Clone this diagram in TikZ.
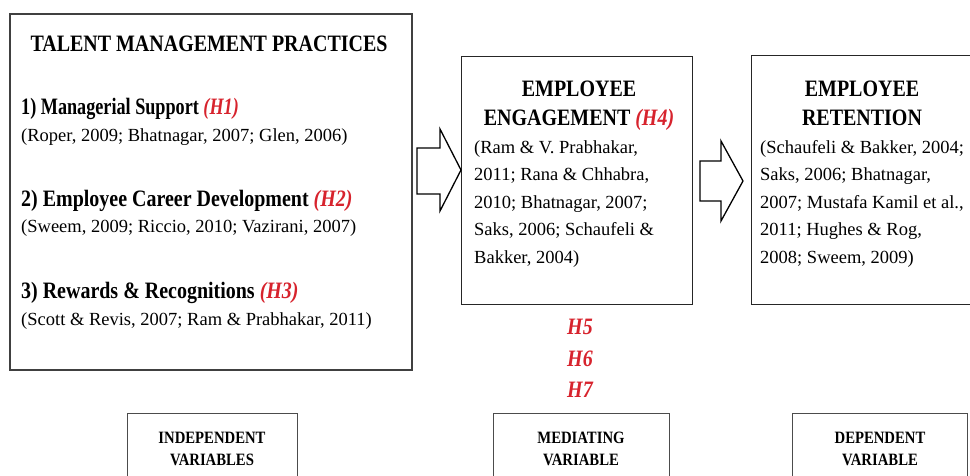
\documentclass[tikz,border=0pt]{standalone}
\usepackage{fontspec}
\setmainfont{Liberation Serif}[BoldFeatures={FakeStretch=0.85},BoldItalicFeatures={FakeStretch=0.85}]
\definecolor{hred}{RGB}{215,35,45}
\tikzset{
 box/.style={draw=black!85, line width=1.4pt, inner sep=0pt, anchor=north west},
 lbox/.style={draw=black!70, line width=1.2pt, inner sep=0pt, anchor=north west},
 hd/.style={font=\fontsize{23.5}{28}\selectfont\bfseries, inner sep=0pt},
 cite/.style={font=\fontsize{18.5}{27}\selectfont, inner sep=0pt, anchor=base west},
 lab/.style={font=\fontsize{17.3}{22}\selectfont\bfseries, inner sep=0pt, anchor=base},
 hyp/.style={font=\fontsize{23.5}{28}\selectfont\bfseries\itshape, text=hred, inner sep=0pt, anchor=base},
 barrow/.style={draw=black, line width=1.3pt, fill=white, line join=miter}
}
\newcommand\Hx[1]{{\itshape\color{hred}(#1)}}
\begin{document}
\begin{tikzpicture}[x=1pt,y=-1pt]
\useasboundingbox (0,0) rectangle (970,476);
\clip (0,0) rectangle (970,476);
% boxes
\node[box, draw=black!75, line width=1.8pt, minimum width=402pt, minimum height=356pt] (tm) at (9,13) {};
\node[box, minimum width=231pt, minimum height=248pt] (eng) at (461,56) {};
\node[box, minimum width=229pt, minimum height=249pt] (ret) at (751,55) {};
\node[lbox, minimum width=170pt, minimum height=80pt] (iv) at (127,413) {};
\node[lbox, minimum width=176pt, minimum height=80pt] (mv) at (493,413) {};
\node[lbox, minimum width=175pt, minimum height=80pt] (dv) at (792,413) {};
% block arrows
\coordinate (t1) at (461,170);
\coordinate (t2) at (743,181);
\draw[barrow] (t1) -- ++(-21,41) -- ++(0,-17) -- ++(-23,0) -- ++(0,-46) -- ++(23,0) -- ++(0,-19) -- cycle;
\draw[barrow] (t2) -- ++(-22,40) -- ++(0,-20) -- ++(-21,0) -- ++(0,-40) -- ++(21,0) -- ++(0,-20) -- cycle;
% left box text
\node[hd, anchor=base] (tmt) at (209,52) {TALENT MANAGEMENT PRACTICES};
\node[hd, anchor=base west] (i1) at (21,115) {\scalebox{0.91}[1]{1) Managerial Support \Hx{H1}}};
\node[cite] (c1) at (21,142) {(Roper, 2009; Bhatnagar, 2007; Glen, 2006)};
\node[hd, anchor=base west] (i2) at (21,207) {2) Employee Career Development \Hx{H2}};
\node[cite] (c2) at (21,233) {(Sweem, 2009; Riccio, 2010; Vazirani, 2007)};
\node[hd, anchor=base west] (i3) at (21,298) {3) Rewards \& Recognitions \Hx{H3}};
\node[cite] (c3) at (21,325) {(Scott \& Revis, 2007; Ram \& Prabhakar, 2011)};
% middle box text
\node[hd, anchor=base] (e1) at (579,97) {EMPLOYEE};
\node[hd, anchor=base] (e2) at (579,126) {ENGAGEMENT \Hx{H4}};
\node[cite] (m1) at (474,154) {(Ram \& V. Prabhakar,};
\node[cite] (m2) at (474,181) {2011; Rana \& Chhabra,};
\node[cite] (m3) at (474,208) {2010; Bhatnagar, 2007;};
\node[cite] (m4) at (474,236) {Saks, 2006; Schaufeli \&};
\node[cite] (m5) at (474,263) {Bakker, 2004)};
% right box text
\node[hd, anchor=base] (r1) at (862,97) {EMPLOYEE};
\node[hd, anchor=base] (r2) at (862,126) {RETENTION};
\node[cite] (n1) at (760,154) {(Schaufeli \& Bakker, 2004;};
\node[cite] (n2) at (760,181) {Saks, 2006; Bhatnagar,};
\node[cite] (n3) at (760,208) {2007; Mustafa Kamil et al.,};
\node[cite] (n4) at (760,236) {2011; Hughes \& Rog,};
\node[cite] (n5) at (760,263) {2008; Sweem, 2009)};
% hypotheses
\node[hyp] (h5) at (580,334) {H5};
\node[hyp] (h6) at (580,366) {H6};
\node[hyp] (h7) at (580,397) {H7};
% bottom labels
\node[lab] (iv1) at (212,443) {INDEPENDENT};
\node[lab] (iv2) at (212,465) {VARIABLES};
\node[lab] (mv1) at (581,443) {MEDIATING};
\node[lab] (mv2) at (581,465) {VARIABLE};
\node[lab] (dv1) at (880,443) {DEPENDENT};
\node[lab] (dv2) at (880,465) {VARIABLE};
\end{tikzpicture}
\end{document}
